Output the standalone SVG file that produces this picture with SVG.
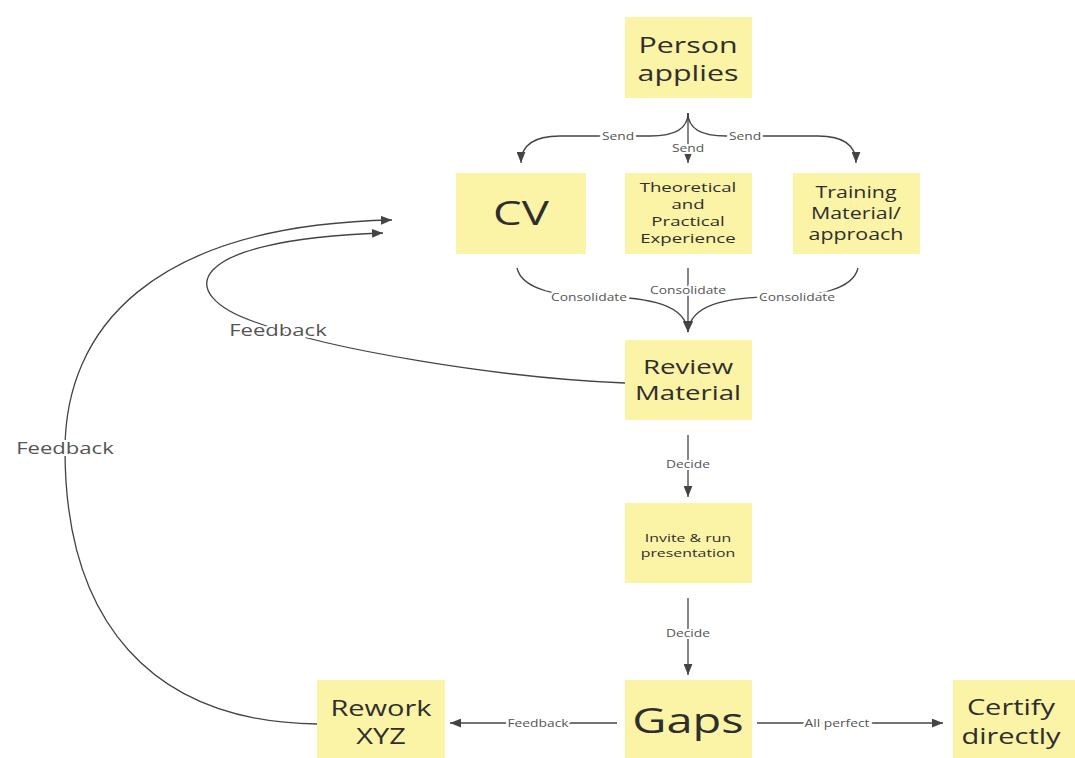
<svg xmlns="http://www.w3.org/2000/svg" width="1075" height="758" viewBox="0 0 1075 758">
<defs>
<marker id="ah" viewBox="0 0 10 8" refX="10" refY="4" markerWidth="11" markerHeight="9" markerUnits="userSpaceOnUse" orient="auto"><path d="M0,0 L10,4 L0,8 z" fill="#444"/></marker>
<style>
.box{fill:#fbf3a5}
.t{font-family:"Open Sans","Liberation Sans",sans-serif;fill:#2e2e2e;text-anchor:middle;dominant-baseline:central}
.c{fill:none;stroke:#444;stroke-width:1.3;marker-end:url(#ah)}
.l{font-family:"Open Sans","Liberation Sans",sans-serif;fill:#555;font-size:10px;text-anchor:middle;dominant-baseline:central;stroke:#fff;stroke-width:4;paint-order:stroke}
.lb{font-size:16px}
</style>
</defs>
<rect width="1075" height="758" fill="#fff"/>
<g id="connectors">
<path class="c" d="M688,113 C688,128 675,136 650,136 L560,136 C535,136 521,145 521,163"/>
<path class="c" d="M688,113 L688,163"/>
<path class="c" d="M688,113 C688,128 701,136 726,136 L818,136 C843,136 856,145 856,163"/>
<path class="c" d="M517,268 C522,290 560,297 600,297 C650,297 686,305 688,332"/>
<path class="c" d="M688,268 L688,332"/>
<path class="c" d="M858,268 C853,290 815,297 775,297 C725,297 690,305 688,332"/>
<path class="c" d="M625,383 C500,378 330,350 255,322 C175,295 180,240 383,233"/>
<path class="c" d="M317,724 C150,722 65,620 65,450 C65,330 150,225 392,220"/>
<path class="c" d="M688,435 L688,497"/>
<path class="c" d="M688,598 L688,675"/>
<path class="c" d="M617,723 L450,723"/>
<path class="c" d="M757,723 L943,723"/>
<text class="l" transform="translate(618,136) scale(1.38 1)">Send</text>
<text class="l" transform="translate(688,148) scale(1.38 1)">Send</text>
<text class="l" transform="translate(745,136) scale(1.38 1)">Send</text>
<text class="l" transform="translate(589,297) scale(1.38 1)">Consolidate</text>
<text class="l" transform="translate(688,290) scale(1.38 1)">Consolidate</text>
<text class="l" transform="translate(797,297) scale(1.38 1)">Consolidate</text>
<text class="l lb" transform="translate(278,330) scale(1.38 1)">Feedback</text>
<text class="l lb" transform="translate(65,448) scale(1.38 1)">Feedback</text>
<text class="l" transform="translate(688,464) scale(1.38 1)">Decide</text>
<text class="l" transform="translate(688,633) scale(1.38 1)">Decide</text>
<text class="l" transform="translate(538,723) scale(1.38 1)">Feedback</text>
<text class="l" transform="translate(837,723) scale(1.38 1)">All perfect</text>
</g>
<g id="person">
<rect class="box" x="625" y="17" width="127" height="81"/>
<text class="t" font-size="22" transform="translate(688,45) scale(1.38 1)">Person</text>
<text class="t" font-size="22" transform="translate(688,73) scale(1.38 1)">applies</text>
</g>
<g id="cv">
<rect class="box" x="456" y="173" width="130" height="81"/>
<text class="t" font-size="33" transform="translate(521,213) scale(1.38 1)">CV</text>
</g>
<g id="experience">
<rect class="box" x="625" y="173" width="127" height="81"/>
<text class="t" font-size="13.5" transform="translate(688,187) scale(1.38 1)">Theoretical</text>
<text class="t" font-size="13.5" transform="translate(688,204) scale(1.38 1)">and</text>
<text class="t" font-size="13.5" transform="translate(688,221) scale(1.38 1)">Practical</text>
<text class="t" font-size="13.5" transform="translate(688,238) scale(1.38 1)">Experience</text>
</g>
<g id="training">
<rect class="box" x="793" y="173" width="127" height="81"/>
<text class="t" font-size="15.5" transform="translate(856,192) scale(1.38 1)">Training</text>
<text class="t" font-size="15.5" transform="translate(856,213) scale(1.38 1)">Material/</text>
<text class="t" font-size="15.5" transform="translate(856,234) scale(1.38 1)">approach</text>
</g>
<g id="review">
<rect class="box" x="625" y="340" width="127" height="80"/>
<text class="t" font-size="20" transform="translate(688,366) scale(1.38 1)">Review</text>
<text class="t" font-size="20" transform="translate(688,392) scale(1.38 1)">Material</text>
</g>
<g id="invite">
<rect class="box" x="625" y="503" width="127" height="80"/>
<text class="t" font-size="11.5" transform="translate(688,537) scale(1.38 1)">Invite &amp; run</text>
<text class="t" font-size="11.5" transform="translate(688,552) scale(1.38 1)">presentation</text>
</g>
<g id="gaps">
<rect class="box" x="625" y="680" width="127" height="78"/>
<text class="t" font-size="34" transform="translate(688,720) scale(1.38 1)">Gaps</text>
</g>
<g id="rework">
<rect class="box" x="317" y="680" width="128" height="78"/>
<text class="t" font-size="21" transform="translate(381,708) scale(1.38 1)">Rework</text>
<text class="t" font-size="21" transform="translate(381,736) scale(1.38 1)">XYZ</text>
</g>
<g id="certify">
<rect class="box" x="953" y="680" width="122" height="78"/>
<text class="t" font-size="21" transform="translate(1011,707) scale(1.38 1)">Certify</text>
<text class="t" font-size="21" transform="translate(1011,736) scale(1.38 1)">directly</text>
</g>
</svg>
